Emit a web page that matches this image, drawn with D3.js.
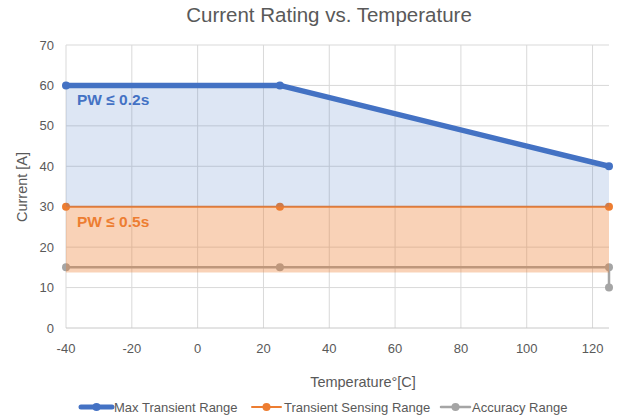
<!DOCTYPE html>
<html><head><meta charset="utf-8">
<script src="https://cdn.jsdelivr.net/npm/d3@7"></script>
<style>body{margin:0;background:#fff}text{font-family:"Liberation Sans",Arial,sans-serif}</style>
</head><body><svg id="c" width="617" height="417"></svg>
<script>
const xTicks = [-40,-20,0,20,40,60,80,100,120];
const yTicks = [0,10,20,30,40,50,60,70];
const maxTemp = [-40,25,125];
const maxVals = [60,60,40];
const sensTemp = [-40,25,125];
const sensVals = [30,30,30];
const accTemp = [-40,25,125,125];
const accVals = [15,15,15,10];
const blueAreaLower = 30;
const orangeAreaLower = 13.7;
const seriesNames = ["Max Transient Range","Transient Sensing Range","Accuracy Range"];
const colors = ["#4472C4","#ED7D31","#A5A5A5"];

const svg = d3.select("#c");
const x = d3.scaleLinear().domain([-40,125]).range([66,609]);
const y = d3.scaleLinear().domain([0,70]).range([328,45]);
const txt = "#595959";

// gridlines
svg.append("g").selectAll("line").data(yTicks.filter(d=>d>0)).join("line")
  .attr("x1",x(-40)).attr("x2",x(125)).attr("y1",d=>y(d)).attr("y2",d=>y(d))
  .attr("stroke","#d9d9d9").attr("stroke-width",1);
svg.append("g").selectAll("line").data(xTicks).join("line")
  .attr("x1",d=>x(d)).attr("x2",d=>x(d)).attr("y1",y(0)).attr("y2",y(70))
  .attr("stroke","#d9d9d9").attr("stroke-width",1);
svg.append("line").attr("x1",x(-40)).attr("x2",x(125)).attr("y1",y(0)).attr("y2",y(0))
  .attr("stroke","#c8c8c8").attr("stroke-width",1);

// tick labels
svg.append("g").selectAll("text").data(yTicks).join("text")
  .attr("x",54).attr("y",d=>y(d)+4.5).attr("text-anchor","end")
  .attr("font-size",13).attr("fill",txt).text(d=>d);
svg.append("g").selectAll("text").data(xTicks).join("text")
  .attr("x",d=>x(d)).attr("y",y(0)+25).attr("text-anchor","middle")
  .attr("font-size",13).attr("fill",txt).text(d=>d);

// lines
const line = d3.line().x(d=>x(d[0])).y(d=>y(d[1]));
const series = [
  {t:maxTemp,v:maxVals,w:5.5,r:4},
  {t:sensTemp,v:sensVals,w:2,r:4},
  {t:accTemp,v:accVals,w:2.5,r:4}
];
series.slice().reverse().forEach((s,ri)=>{
  const i = 2-ri;
  const pts = s.t.map((t,k)=>[t,s.v[k]]);
  svg.append("path").attr("d",line(pts)).attr("fill","none")
    .attr("stroke",colors[i]).attr("stroke-width",s.w).attr("stroke-linejoin","round");
  svg.append("g").selectAll("circle").data(pts).join("circle")
    .attr("cx",d=>x(d[0])).attr("cy",d=>y(d[1])).attr("r",s.r).attr("fill",colors[i]);
});

// fills
const blueArea = d3.area().x(d=>x(d[0])).y0(y(blueAreaLower)).y1(d=>y(d[1]));
svg.append("path").attr("d",blueArea(maxTemp.map((t,k)=>[t,maxVals[k]])))
  .attr("fill","#4472C4").attr("fill-opacity",0.18);
const orArea = d3.area().x(d=>x(d[0])).y0(y(orangeAreaLower)).y1(d=>y(d[1]));
svg.append("path").attr("d",orArea(sensTemp.map((t,k)=>[t,sensVals[k]])))
  .attr("fill","#ED7D31").attr("fill-opacity",0.35);

// labels
svg.append("text").attr("x",77).attr("y",105).attr("font-size",15.5).attr("font-weight","bold")
  .attr("fill","#4472C4").text("PW ≤ 0.2s");
svg.append("text").attr("x",77).attr("y",227).attr("font-size",15.5).attr("font-weight","bold")
  .attr("fill","#ED7D31").text("PW ≤ 0.5s");

// titles
svg.append("text").attr("x",329).attr("y",22).attr("text-anchor","middle")
  .attr("font-size",20.5).attr("fill",txt).text("Current Rating vs. Temperature");
svg.append("text").attr("transform","translate(27,187) rotate(-90)").attr("text-anchor","middle")
  .attr("font-size",14.5).attr("fill",txt).text("Current [A]");
svg.append("text").attr("x",363).attr("y",387).attr("text-anchor","middle")
  .attr("font-size",14.5).attr("fill",txt).text("Temperature°[C]");

// legend
const lg = [{x0:81,x1:112,tx:114,w:5},{x0:252,x1:281,tx:284,w:2},{x0:441,x1:470,tx:472,w:2.5}];
lg.forEach((l,i)=>{
  const ly = 407;
  svg.append("line").attr("x1",l.x0).attr("x2",l.x1).attr("y1",ly).attr("y2",ly)
    .attr("stroke",colors[i]).attr("stroke-width",l.w).attr("stroke-linecap","round");
  svg.append("circle").attr("cx",(l.x0+l.x1)/2).attr("cy",ly).attr("r",4).attr("fill",colors[i]);
  svg.append("text").attr("x",l.tx).attr("y",ly+4.5).attr("font-size",13).attr("fill",txt).text(seriesNames[i]);
});
</script></body></html>
